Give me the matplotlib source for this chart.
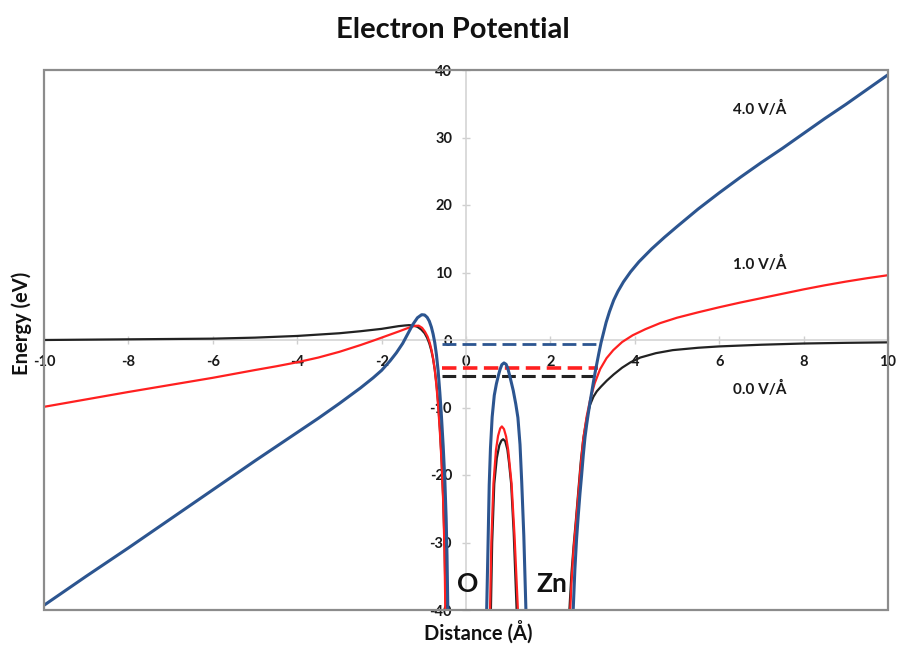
import numpy as np
import matplotlib
matplotlib.use("Agg")
import matplotlib.pyplot as plt
from matplotlib.patches import Rectangle

nan = np.nan

# potential curves (eV) vs distance (A); nan breaks between the three branches
# 0.0 V/A
black_x = [-10, -9, -8, -7, -6, -5, -4, -3.5, -3, -2.5, -2, -1.8, -1.6, -1.45, -1.35, -1.25, -1.15,
           -1.06, -0.98, -0.92, -0.87, -0.82, -0.78, -0.74, -0.7, -0.66, -0.62, -0.58, -0.54,
           -0.51, -0.48, nan,
           0.59, 0.62, 0.67, 0.73, 0.79, 0.84, 0.88, 0.93, 0.98, 1.02, 1.07, 1.13, 1.20, nan,
           2.45, 2.5, 2.55, 2.6, 2.66, 2.72, 2.78, 2.86, 2.94, 3.02, 3.1, 3.2, 3.34, 3.5, 3.7,
           3.9, 4.13, 4.5, 4.9, 5.5, 6, 7, 8, 9, 10]
black_y = [0.0, 0.05, 0.1, 0.15, 0.2, 0.35, 0.6, 0.8, 1.0, 1.3, 1.65, 1.85, 2.05, 2.15, 2.2, 2.15, 1.95,
           1.55, 1.0, 0.3, -0.5, -1.6, -2.8, -4.4, -6.5, -9.3, -13, -17.5, -23.5,
           -30, -40, nan,
           -40, -30, -21.3, -17.5, -15.6, -14.9, -14.7, -15.0, -16.2, -18.2, -21.3, -28.5, -40, nan,
           -40, -34.5, -30.5, -27, -22.5, -18, -14.6, -11.6, -9.6, -8.4, -7.6, -6.9, -6.0, -5.1, -4.1,
           -3.3, -2.6, -1.95, -1.5, -1.15, -0.95, -0.7, -0.52, -0.42, -0.35]

# 1.0 V/A
red_x = [-10, -9, -8, -7, -6, -5, -4.5, -4, -3.5, -3, -2.5, -2.2, -2, -1.8, -1.6, -1.45, -1.3, -1.2,
         -1.12, -1.04, -0.97, -0.91, -0.86, -0.82, -0.78, -0.74, -0.7, -0.66, -0.62, -0.58,
         -0.54, -0.51, -0.49, nan,
         0.57, 0.60, 0.65, 0.71, 0.76, 0.81, 0.85, 0.9, 0.95, 1.0, 1.08, 1.15, 1.23, nan,
         2.47, 2.5, 2.55, 2.6, 2.66, 2.72, 2.78, 2.86, 2.94, 3.05, 3.18, 3.33, 3.49, 3.7, 3.95,
         4.25, 4.6, 5.0, 5.5, 6, 6.5, 7, 7.5, 8, 8.5, 9, 9.5, 10]
red_y = [-9.9, -8.8, -7.7, -6.65, -5.6, -4.45, -3.9, -3.3, -2.6, -1.75, -0.75, -0.1, 0.35, 0.8, 1.25,
         1.6, 1.95, 2.1, 2.12, 1.8, 1.2, 0.5, -0.4, -1.4, -2.7, -4.4, -6.8, -9.8, -13.5, -18,
         -24, -31, -40, nan,
         -40, -30, -21.3, -16.3, -14.2, -13.1, -12.8, -13.2, -14.3, -16.3, -21.3, -29, -40, nan,
         -40, -36, -31, -27.5, -23, -18.5, -14.6, -11.3, -8.9, -6.4, -4.3, -2.7, -1.5, -0.3, 0.7,
         1.6, 2.5, 3.3, 4.1, 4.85, 5.55, 6.2, 6.85, 7.5, 8.1, 8.65, 9.15, 9.6]

# 4.0 V/A
blue_x = [-10, -9, -8, -7, -6, -5, -4, -3.5, -3, -2.5, -2.2, -2.0, -1.8, -1.65, -1.5, -1.38, -1.26,
          -1.15, -1.05, -0.98, -0.92, -0.87, -0.82, -0.78, -0.74, -0.7, -0.66, -0.62, -0.58,
          -0.54, -0.5, -0.47, -0.45, -0.43, nan,
          0.49, 0.52, 0.55, 0.58, 0.62, 0.67, 0.72, 0.77, 0.81, 0.85, 0.90, 0.95, 0.99, 1.04,
          1.12, 1.18, 1.23, 1.28, 1.32, 1.37, 1.42, nan,
          2.54, 2.58, 2.62, 2.66, 2.7, 2.74, 2.78, 2.82, 2.86, 2.9, 2.94, 2.98, 3.02, 3.06, 3.10,
          3.15, 3.2, 3.26, 3.32, 3.4, 3.5, 3.6, 3.73, 3.9, 4.1, 4.4, 4.7, 5.0, 5.5, 6, 6.5, 7,
          7.5, 8, 8.5, 9, 9.5, 10]
blue_y = [-39.3, -35.0, -30.8, -26.5, -22.2, -17.9, -13.7, -11.6, -9.4, -7.1, -5.6, -4.5, -3.1, -1.9,
          -0.5, 0.9, 2.3, 3.3, 3.75, 3.7, 3.35, 2.8, 1.9, 0.9, -0.4, -2.2, -4.6, -7.8, -11.5,
          -15.8, -21, -26.5, -32, -40, nan,
          -40, -31, -21.5, -16, -11.4, -8.2, -6.5, -5.2, -4.3, -3.65, -3.4, -3.6, -4.2, -5.4,
          -7.5, -9.5, -11.5, -15.5, -21, -29, -40, nan,
          -40, -34, -29.5, -26, -22.8, -20, -17, -14.4, -12.5, -10.8, -9.2, -7.7, -6.2, -4.8, -3.5,
          -1.9, -0.4, 1.1, 2.6, 4.2, 5.9, 7.2, 8.6, 10.1, 11.6, 13.5, 15.2, 16.8, 19.4, 21.8, 24.1,
          26.3, 28.4, 30.6, 32.8, 34.9, 37.1, 39.3]

# bound-state levels between O and Zn: (start, end, energy)
level_start = -0.58
level_end_black, level_black = 3.0, -5.4
level_end_red, level_red = 3.13, -4.2
level_end_blue, level_blue = 3.1, -0.6

field_labels = ["4.0 V/Å", "1.0 V/Å", "0.0 V/Å"]
field_label_x = [6.95, 6.95, 6.95]
field_label_y = [34.2, 11.2, -7.3]

xticks = [-10, -8, -6, -4, -2, 0, 2, 4, 6, 8, 10]
yticks = [-40, -30, -20, -10, 0, 10, 20, 30, 40]

BLUE = "#2c5590"
RED = "#ff2020"
BLACK = "#222222"
FONT = ["Lato", "DejaVu Sans"]

plt.rcParams["font.family"] = FONT
fig = plt.figure(figsize=(9.01, 6.46), dpi=100)
ax = fig.add_axes([44 / 901, 1 - 610 / 646, 844 / 901, 540 / 646])

ax.plot(black_x, black_y, color=BLACK, lw=1.6, zorder=3, solid_joinstyle="round")
ax.plot(red_x, red_y, color=RED, lw=1.6, zorder=4, solid_joinstyle="round")
ax.plot(blue_x, blue_y, color=BLUE, lw=2.2, zorder=5, solid_joinstyle="round")

ax.plot([level_start, level_end_blue], [level_blue] * 2, color=BLUE, lw=2.0,
        ls=(0, (5, 2.2)), zorder=3)
ax.plot([level_start, level_end_red], [level_red] * 2, color=RED, lw=2.6,
        ls=(0, (4, 1.8)), zorder=3)
ax.plot([level_start, level_end_black], [level_black] * 2, color=BLACK, lw=2.2,
        ls=(0, (4.5, 2)), zorder=3)

ax.set_xlim(-10, 10)
ax.set_ylim(-40, 40)

# axes crossing at the origin, plus an outer frame
for side in ["top", "right"]:
    ax.spines[side].set_visible(False)
ax.spines["left"].set_position("zero")
ax.spines["bottom"].set_position("zero")
ax.spines["left"].set_color("#d4d4d4")
ax.spines["bottom"].set_color("#d4d4d4")
ax.spines["left"].set_linewidth(1.2)
ax.spines["bottom"].set_linewidth(1.2)
ax.add_patch(Rectangle((0, 0), 1, 1, transform=ax.transAxes, fill=False,
                       edgecolor="#8c8c8c", lw=1.6, clip_on=False, zorder=6))

ax.set_xticks(xticks)
ax.set_yticks(yticks)
ax.set_xticklabels([str(t) for t in xticks])
ax.set_yticklabels([str(t) for t in yticks])
ax.tick_params(axis="both", direction="inout", length=6, width=1, color="#cfcfcf",
               labelsize=10.5, labelcolor="#1a1a1a")
ax.tick_params(axis="x", pad=8)
ax.tick_params(axis="y", pad=7)
for lab in ax.get_xticklabels() + ax.get_yticklabels():
    lab.set_fontweight("bold")

for txt, tx, ty in zip(field_labels, field_label_x, field_label_y):
    ax.text(tx, ty, txt, fontsize=11, fontweight="bold", color="#1a1a1a",
            ha="center", va="center")

ax.text(0.05, -36.2, "O", fontsize=19, fontweight="bold", ha="center", va="center", color="#111111")
ax.text(2.03, -36.2, "Zn", fontsize=19, fontweight="bold", ha="center", va="center", color="#111111")

fig.text(453 / 901, 1 - 30 / 646, "Electron Potential", fontsize=21, fontweight="bold",
         ha="center", va="center", color="#111111")
fig.text(478 / 901, 1 - 632 / 646, "Distance (Å)", fontsize=14.5, fontweight="bold",
         ha="center", va="center", color="#111111")
fig.text(22 / 901, 1 - 323 / 646, "Energy (eV)", fontsize=14.5, fontweight="bold",
         ha="center", va="center", rotation=90, color="#111111")

fig.savefig("out.png", dpi=100)
